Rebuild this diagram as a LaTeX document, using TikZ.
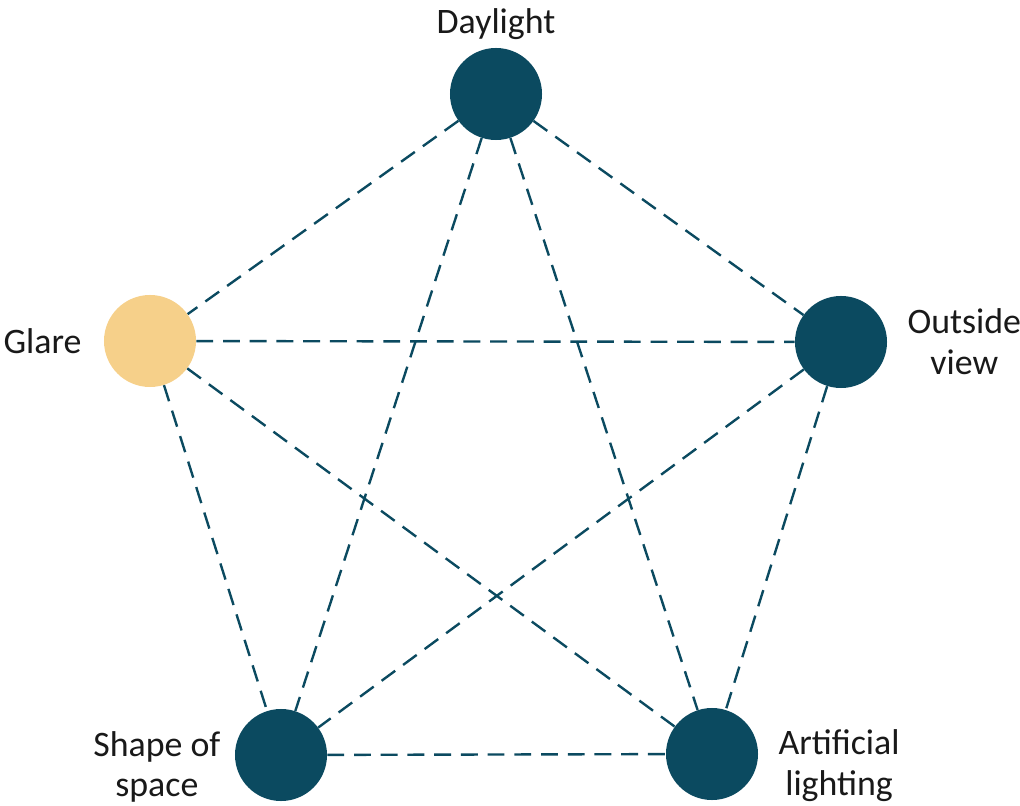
\documentclass[tikz,border=0pt]{standalone}
\usepackage{fontspec}
\setmainfont{Carlito}
\usetikzlibrary{positioning}
\definecolor{deepteal}{HTML}{0B4A60}
\definecolor{sand}{HTML}{F6D08A}

\begin{document}
\begin{tikzpicture}[
  x=0.025cm, y=-0.025cm,
  factor/.style={circle, fill=deepteal, minimum size=2.3cm, inner sep=0},
  hot/.style={factor, fill=sand},
  tag/.style={font=\fontsize{25.5}{29}\selectfont, align=center, inner sep=0, text=black!90},
  link/.style={deepteal, line width=1.7pt, dash pattern=on 12pt off 7pt}
]
\useasboundingbox (0,0) rectangle (1020,806);

% Factors
\node[factor] (daylight) at (496,94) {};
\node[factor] (outside) at (841,342) {};
\node[hot] (glare) at (150,341) {};
\node[factor] (shape) at (281,755) {};
\node[factor] (artificial) at (712,754) {};

% Labels
\node[tag, above=0.2cm of daylight] (daylightlbl) {Daylight};
\node[tag, right=0.5cm of outside] (outsidelbl) {Outside\\view};
\node[tag, left=0.55cm of glare] (glarelbl) {Glare};
\node[tag, left=0.35cm of shape, yshift=-0.3cm] (shapelbl) {Shape of\\space};
\node[tag, right=0.5cm of artificial, yshift=-0.3cm] (artificiallbl) {Artificial\\lighting};

% Links
\draw[link] (daylight) -- (outside);
\draw[link] (daylight) -- (glare);
\draw[link] (daylight) -- (shape);
\draw[link] (daylight) -- (artificial);
\draw[link] (glare) -- (outside);
\draw[link] (glare) -- (shape);
\draw[link] (glare) -- (artificial);
\draw[link] (outside) -- (shape);
\draw[link] (outside) -- (artificial);
\draw[link] (shape) -- (artificial);

\end{tikzpicture}
\end{document}
